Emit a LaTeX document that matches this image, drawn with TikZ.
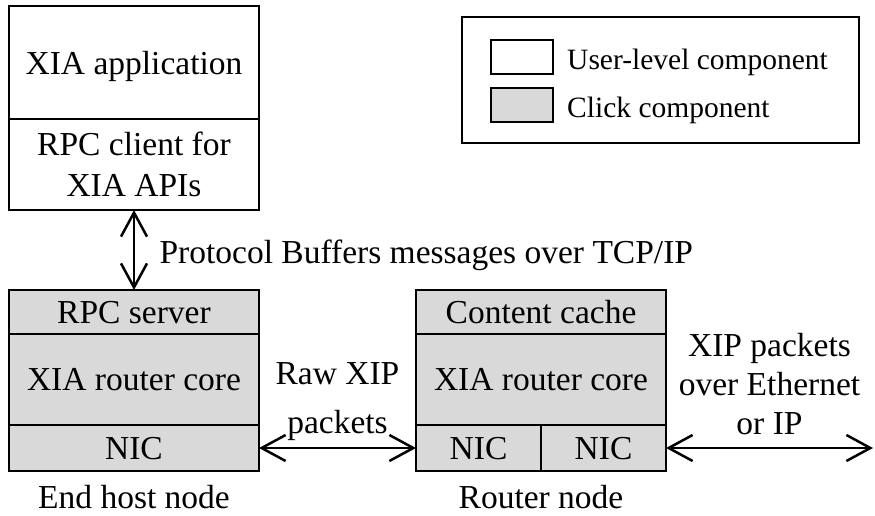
\documentclass[tikz,border=0pt]{standalone}
\usepackage{fontspec}
\setmainfont{Liberation Serif}
\usetikzlibrary{positioning,arrows.meta}

\begin{document}
\begin{tikzpicture}[x=1pt, y=-1pt, font=\fontsize{33.5}{41}\selectfont,
                    >={Straight Barb[length=24pt, width=26pt]}]
  \tikzstyle{user} = [rectangle, draw, line width=2.5pt, fill=white, minimum width=250pt,
                                    outer sep=0pt, inner sep=0pt, text depth=0pt, align=center]
  \tikzstyle{click} = [user, fill=black!15]
  \tikzstyle{swatch} = [rectangle, draw, line width=2.5pt, minimum width=62pt,
                                    minimum height=34pt, outer sep=0pt]
  \tikzstyle{legtext} = [inner sep=0pt, yshift=-5pt, font=\fontsize{29.5}{35}\selectfont]
\useasboundingbox (0,0) rectangle (875,516);
\node[user, minimum height=113pt](app) at (134,62.5){XIA application};
\node[user, minimum height=91pt, below=0pt of app](rpcClient){RPC client for\\XIA APIs};
\node[click, minimum height=44pt](rpcServer) at (134,312){RPC server};
\node[click, minimum height=91pt, below=0pt of rpcServer](hostCore){XIA router core};
\node[click, minimum height=46pt, below=0pt of hostCore](hostNic){NIC};
\node[below=11pt of hostNic](hostName){End host node};
\node[click, minimum height=44pt](cache) at (541,312){Content cache};
\node[click, minimum height=91pt, below=0pt of cache](routerCore){XIA router core};
\node[click, minimum height=46pt, minimum width=125pt, anchor=north west](nicA) at (routerCore.south west){NIC};
\node[click, minimum height=46pt, minimum width=125pt, right=0pt of nicA](nicB){NIC};
\node[below=11pt of routerCore.south, yshift=-46pt](routerName){Router node};
\coordinate (wire) at (873,448);
% legend
\node[rectangle, draw, line width=1.8pt, minimum width=397pt, minimum height=126pt](legend) at (660.5,80){};
\node[swatch, fill=white](userKey) at (522,57){};
\node[swatch, fill=black!15, below=14pt of userKey](clickKey){};
\node[legtext, right=14pt of userKey](userText){User-level component};
\node[legtext, right=14pt of clickKey](clickText){Click component};
\draw[<->, line width=2.5pt] (rpcClient) -- node[right, xshift=21pt, yshift=-5pt]{Protocol Buffers messages over TCP/IP} (rpcServer);
\draw[<->, line width=2.5pt] (hostNic) -- node[above=3pt, align=center]{Raw XIP\\[8pt]packets} (nicA);
\draw[<->, line width=2.5pt] (nicB) -- node[above=9pt, align=center, font=\fontsize{33.5}{39}\selectfont]{XIP packets\\over Ethernet\\or IP} (wire);
\end{tikzpicture}
\end{document}
